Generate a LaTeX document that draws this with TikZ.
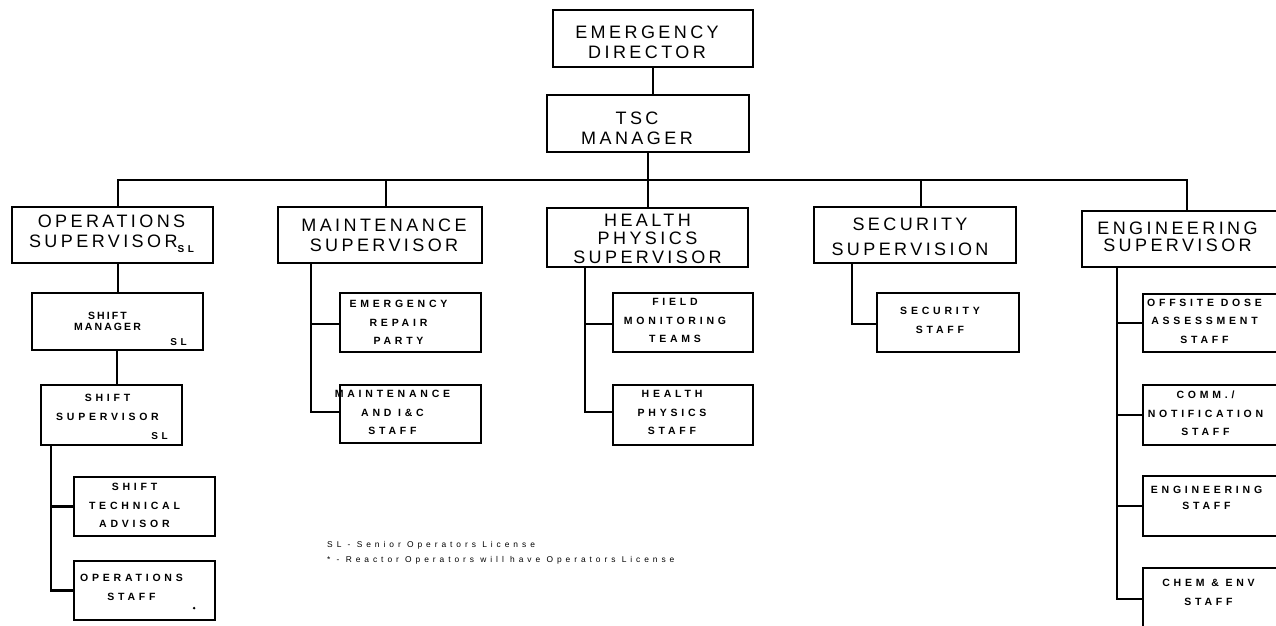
\documentclass[tikz,border=0pt]{standalone}
\usepackage{fontspec}
\setmainfont{Liberation Sans}
\newfontfamily\headfont[LetterSpace=19]{Liberation Sans}
\newfontfamily\subfont[LetterSpace=36]{Liberation Sans}
\newfontfamily\tightfont[LetterSpace=20]{Liberation Sans}
\newfontfamily\notefont[LetterSpace=47]{Liberation Sans}

\tikzset{
  box/.style={draw, rectangle, line width=2.2pt, inner sep=0pt},
  headbox/.style={box},
  subbox/.style={box, minimum width=141, minimum height=59},
  headtxt/.style={align=center, inner sep=0pt, font=\headfont\fontsize{18}{20}\selectfont},
  subtxt/.style={align=center, inner sep=0pt, font=\subfont\bfseries\fontsize{10.5}{18.5}\selectfont},
  sltxt/.style={inner sep=0pt, font=\subfont\bfseries\fontsize{10}{10}\selectfont},
  link/.style={line width=2.2pt},
}

\begin{document}
\begin{tikzpicture}[x=1pt, y=-1pt]
\useasboundingbox (0,0) rectangle (1276,625);
\clip (0,0) rectangle (1276,625);

% ---- top of the chain ----
\node[headbox, minimum width=200, minimum height=57,
      label={[headtxt, xshift=-6pt, yshift=-4pt]center:EMERGENCY\\DIRECTOR}] (ED) at (653,38.5) {};
\node[headbox, minimum width=202, minimum height=57,
      label={[headtxt, xshift=-11pt, yshift=-4.5pt]center:TSC\\MANAGER}] (TSC) at (648,123.5) {};

% ---- supervisors ----
\node[headbox, minimum width=201, minimum height=56,
      label={[headtxt, xshift=-1pt, yshift=1.5pt]center:OPERATIONS\\SUPERVISOR\raisebox{-5pt}{\subfont\bfseries\fontsize{10}{10}\selectfont SL}}]
  (OPS) at (112.5,235) {};
\node[headbox, minimum width=204, minimum height=56,
      label={[headtxt, xshift=4pt]center:MAINTENANCE\\SUPERVISOR}] (MAINT) at (380,235) {};
\node[headbox, minimum width=201, minimum height=59,
      label={[headtxt, font=\headfont\fontsize{18}{18.5}\selectfont, yshift=-1pt]center:HEALTH\\PHYSICS\\SUPERVISOR}]
  (HP) at (647.5,237.5) {};
\node[headbox, minimum width=202, minimum height=56,
      label={[headtxt, font=\headfont\fontsize{18}{25}\selectfont, xshift=-5pt, yshift=-1.5pt]center:SECURITY\\SUPERVISION}]
  (SEC) at (915,235) {};
\node[headbox, minimum width=200, minimum height=56,
      label={[headtxt, font=\headfont\fontsize{18}{16.5}\selectfont, xshift=-4.5pt, yshift=2pt]center:ENGINEERING\\SUPERVISOR}]
  (ENG) at (1182,239) {};

% ---- operations line ----
\node[subbox, minimum width=171, minimum height=57,
      label={[subtxt, font=\tightfont\bfseries\fontsize{10.5}{11}\selectfont, xshift=-10pt]center:SHIFT\\MANAGER},
      label={[sltxt, xshift=61pt, yshift=-20.5pt]center:SL}]
  (SM) at (117.5,321.5) {};
\node[subbox, minimum height=60,
      label={[subtxt, font=\subfont\bfseries\fontsize{10.5}{19}\selectfont, xshift=-4pt, yshift=7.5pt]center:SHIFT\\SUPERVISOR},
      label={[sltxt, xshift=48pt, yshift=-21pt]center:SL}]
  (SS) at (111.5,415) {};
\node[subbox, label={[subtxt, xshift=-10pt, yshift=1pt]center:SHIFT\\TECHNICAL\\ADVISOR}] (STA) at (144.5,506.5) {};
\node[subbox, label={[subtxt, xshift=-13pt, yshift=3pt]center:OPERATIONS\\STAFF}] (OPST) at (144.5,590.5) {};
\fill ([xshift=-22pt,yshift=13pt]OPST.south east) circle (1.4pt);

% ---- maintenance line ----
\node[subbox, label={[subtxt, xshift=-12pt]center:EMERGENCY\\REPAIR\\PARTY}] (ERP) at (410.5,322.5) {};
\node[subbox, minimum height=58,
      label={[subtxt, xshift=-18pt, yshift=1.5pt]center:MAINTENANCE\\AND I\&C\\STAFF}] (MIC) at (410.5,414) {};

% ---- health physics line ----
\node[subbox, minimum width=140,
      label={[subtxt, xshift=-8pt, yshift=2pt]center:FIELD\\MONITORING\\TEAMS}] (FMT) at (683,322.5) {};
\node[subbox, minimum width=140, minimum height=60,
      label={[subtxt, xshift=-11pt, yshift=2.5pt]center:HEALTH\\PHYSICS\\STAFF}] (HPS) at (683,415) {};

% ---- security line ----
\node[subbox, minimum width=142,
      label={[subtxt, xshift=-8pt, yshift=2pt]center:SECURITY\\STAFF}] (SST) at (948,322.5) {};

% ---- engineering line ----
\node[subbox, minimum height=58,
      label={[subtxt, xshift=-9pt, yshift=2pt]center:OFFSITE DOSE\\ASSESSMENT\\STAFF}] (ODA) at (1213.5,323) {};
\node[subbox, minimum height=60,
      label={[subtxt, xshift=-8pt, yshift=1.5pt]center:COMM./\\NOTIFICATION\\STAFF}] (CNS) at (1213.5,415) {};
\node[subbox, minimum height=60,
      label={[subtxt, font=\subfont\bfseries\fontsize{10.5}{16}\selectfont, xshift=-7pt, yshift=8pt]center:ENGINEERING\\STAFF}]
  (EST) at (1213.5,506) {};
\node[subbox, minimum height=62,
      label={[subtxt, xshift=-5pt, yshift=6.5pt]center:CHEM \& ENV\\STAFF}] (CES) at (1213.5,599) {};

% ---- legend ----
\node[anchor=west, inner sep=0pt, align=left, font=\notefont\fontsize{8.4}{15}\selectfont]
  (NOTE) at (327,552.5) {SL - Senior Operators License\\* - Reactor Operators will have Operators License};

% ---- connectors ----
\coordinate (busL) at (118,180);
\coordinate (busR) at (1187,180);
\draw[link] (ED.south) -- (ED.south |- TSC.north);
\draw[link] (TSC.south) -- (TSC.south |- HP.north);
\draw[link] (busL |- OPS.north) -- (busL) -- (busR) -- (busR |- ENG.north);
\coordinate (dM) at ([xshift=6pt]MAINT.north);
\draw[link] (dM) -- (dM |- busL);
\coordinate (dS) at ([xshift=6pt]SEC.north);
\draw[link] (dS) -- (dS |- busL);

\draw[link] (busL |- OPS.south) -- (busL |- SM.north);
\draw[link] ([xshift=-1pt]busL |- SM.south) -- ([xshift=-1pt]busL |- SS.north);
\coordinate (tSS) at ([xshift=11pt]SS.south west);
\draw[link] (tSS) |- (STA.west);
\draw[link] (tSS) |- (OPST.west);

\coordinate (tM) at ([xshift=34pt]MAINT.south west);
\draw[link] (tM) |- ([yshift=-1.5pt]ERP.west);
\draw[link] (tM) |- ([yshift=2pt]MIC.west);

\coordinate (tH) at ([xshift=39pt]HP.south west);
\draw[link] (tH) |- ([yshift=-1.5pt]FMT.west);
\draw[link] (tH) |- ([yshift=3pt]HPS.west);

\coordinate (tS) at ([xshift=39pt]SEC.south west);
\draw[link] (tS) |- ([yshift=-1.5pt]SST.west);

\coordinate (tE) at ([xshift=36pt]ENG.south west);
\draw[link] (tE) |- (ODA.west);
\draw[link] (tE) |- (CNS.west);
\draw[link] (tE) |- (EST.west);
\draw[link] (tE) |- (CES.west);
\end{tikzpicture}
\end{document}
